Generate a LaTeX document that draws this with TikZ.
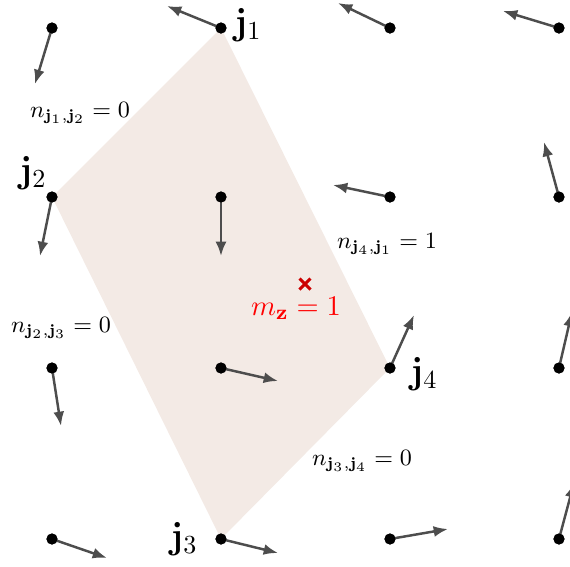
\documentclass[tikz,border=0pt]{standalone}
\usetikzlibrary{arrows.meta,calc}
\definecolor{plaq}{HTML}{F3EAE5}
\definecolor{spincol}{HTML}{4D4D4D}
\definecolor{crosscol}{HTML}{CC0000}
\begin{document}
\begin{tikzpicture}[x=0.0135cm,y=-0.0135cm,
  dot/.style={circle,fill=black,inner sep=0pt,minimum size=0.15cm},
  spin/.style={draw=spincol,line width=0.95pt,-{Latex[length=5.5pt,width=4.2pt]}},
  site/.style={font=\fontsize{14}{16}\selectfont},
  lab/.style={font=\fontsize{9}{11}\selectfont}]
\useasboundingbox (0,0) rectangle (570,567);
\clip (0,0) rectangle (570,567);
% plaquette
\fill[plaq] (221,28) -- (52,197) -- (221,539) -- (390,368) -- cycle;
% sites
\node[dot] (a1) at (52,28) {};
\node[dot] (a2) at (221,28) {};
\node[dot] (a3) at (390,28) {};
\node[dot] (a4) at (559,28) {};
\node[dot] (b1) at (52,197) {};
\node[dot] (b2) at (221,197) {};
\node[dot] (b3) at (390,197) {};
\node[dot] (b4) at (559,197) {};
\node[dot] (c1) at (52,368) {};
\node[dot] (c2) at (221,368) {};
\node[dot] (c3) at (390,368) {};
\node[dot] (c4) at (559,368) {};
\node[dot] (e1) at (52,539) {};
\node[dot] (e2) at (221,539) {};
\node[dot] (e3) at (390,539) {};
\node[dot] (e4) at (559,539) {};
% spin tips
\coordinate (ta1) at (35,84);
\coordinate (ta2) at (167,6);
\coordinate (ta3) at (338,3);
\coordinate (ta4) at (503,11);
\coordinate (tb1) at (40,256);
\coordinate (tb2) at (221,256);
\coordinate (tb3) at (333,185);
\coordinate (tb4) at (544,142);
\coordinate (tc1) at (61,426);
\coordinate (tc2) at (278,381);
\coordinate (tc3) at (414,315);
\coordinate (tc4) at (572,312);
\coordinate (te1) at (107,558);
\coordinate (te2) at (278,553);
\coordinate (te3) at (448,529);
\coordinate (te4) at (574,483);
\foreach \n in {a1,a2,a3,a4,b1,b2,b3,b4,c1,c2,c3,c4,e1,e2,e3,e4}
  \draw[spin] (\n.center) -- (t\n);
% redraw dots on top
\foreach \n in {a1,a2,a3,a4,b1,b2,b3,b4,c1,c2,c3,c4,e1,e2,e3,e4}
  \fill (\n.center) circle[radius=5.5];
% site labels
\node[site] (j1) at (248,25) {$\mathbf{j}_1$};
\node[site] (j2) at (33,173) {$\mathbf{j}_2$};
\node[site] (j3) at (184,539) {$\mathbf{j}_3$};
\node[site] (j4) at (424,374) {$\mathbf{j}_4$};
% link labels
\node[lab] (n12) at (80,113) {$n_{\mathbf{j}_1,\mathbf{j}_2}=0$};
\node[lab] (n41) at (387,244) {$n_{\mathbf{j}_4,\mathbf{j}_1}=1$};
\node[lab] (n23) at (61,328) {$n_{\mathbf{j}_2,\mathbf{j}_3}=0$};
\node[lab] (n34) at (362,461) {$n_{\mathbf{j}_3,\mathbf{j}_4}=0$};
% plaquette marker
\coordinate (z) at (305,284);
\draw[crosscol,line width=1.2pt] ($(z)+(-5.5,-5.5)$) -- ($(z)+(5.5,5.5)$) ($(z)+(-5.5,5.5)$) -- ($(z)+(5.5,-5.5)$);
\node[font=\fontsize{11}{13}\selectfont,text=red] (mz) at (296,308) {$m_{\mathbf{z}}=1$};
\end{tikzpicture}
\end{document}
